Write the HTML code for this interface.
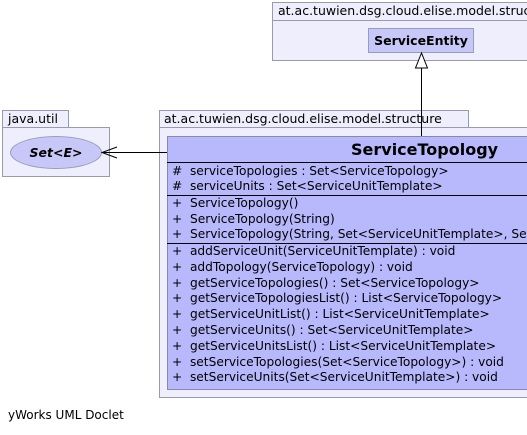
<!DOCTYPE html>
<html><head><meta charset="utf-8"><style>
html,body{margin:0;width:527px;height:435px;overflow:hidden}
body{background:#fff;position:relative;font-family:"DejaVu Sans","Liberation Sans",sans-serif;font-size:12.2px;color:#000}
#w{position:absolute;left:0;top:0;width:527px;height:435px;overflow:hidden}
.a{position:absolute;box-sizing:border-box}
.pk{background:#eeeefc;border:1px solid #9a9aae}
.t{white-space:nowrap;position:absolute;line-height:15px}
</style></head><body><div id="w">
<div class="a pk" style="left:272px;top:2px;width:262px;height:19px"></div>
<div class="t" style="left:278px;top:3px;font-size:12.5px">at.ac.tuwien.dsg.cloud.elise.model.structure</div>
<div class="a pk" style="left:272px;top:20px;width:262px;height:41px"></div>
<div class="a" style="left:368px;top:28px;width:106px;height:25px;background:#c8c8f8;border:1px solid #9a9ac0"></div>
<div class="t" style="left:368px;top:33px;width:106px;text-align:center;font-weight:bold;font-size:12.5px">ServiceEntity</div>

<div class="a pk" style="left:2px;top:110px;width:67px;height:18px"></div>
<div class="t" style="left:8px;top:111px;font-size:12.5px">java.util</div>
<div class="a pk" style="left:2px;top:127px;width:108px;height:50px"></div>
<div class="a" style="left:10px;top:136px;width:92px;height:33px;border-radius:50%;background:#c8c8f8;border:1px solid #9a9ac0"></div>
<div class="t" style="left:10px;top:145px;width:92px;text-align:center;font-weight:bold;font-style:italic;font-size:12.5px">Set&lt;E&gt;</div>

<div class="a pk" style="left:159px;top:110px;width:310px;height:18px"></div>
<div class="t" style="left:164px;top:111px;font-size:12.5px">at.ac.tuwien.dsg.cloud.elise.model.structure</div>
<div class="a pk" style="left:159px;top:127px;width:380px;height:271px"></div>
<div class="a" style="left:167px;top:136px;width:370px;height:254px;background:#b8b8fc;border:1px solid #8888aa"></div>
<div class="t" style="left:351px;top:141px;font-weight:bold;font-size:16px;line-height:18px">ServiceTopology</div>
<div class="a" style="left:167px;top:162px;width:370px;height:1px;background:#000"></div>
<div class="a" style="left:167px;top:195px;width:370px;height:1px;background:#000"></div>
<div class="a" style="left:167px;top:243px;width:370px;height:1px;background:#000"></div>
<div class="t" style="left:172px;top:164px">#&nbsp; serviceTopologies : Set&lt;ServiceTopology&gt;<br>#&nbsp; serviceUnits : Set&lt;ServiceUnitTemplate&gt;</div>
<div class="t" style="left:172px;top:196px;line-height:15.7px">+&nbsp; ServiceTopology()<br>+&nbsp; ServiceTopology(String)<br>+&nbsp; ServiceTopology(String, Set&lt;ServiceUnitTemplate&gt;, Set&lt;ServiceTopology&gt;)</div>
<div class="t" style="left:172px;top:244px;line-height:15.8px">+&nbsp; addServiceUnit(ServiceUnitTemplate) : void<br>+&nbsp; addTopology(ServiceTopology) : void<br>+&nbsp; getServiceTopologies() : Set&lt;ServiceTopology&gt;<br>+&nbsp; getServiceTopologiesList() : List&lt;ServiceTopology&gt;<br>+&nbsp; getServiceUnitList() : List&lt;ServiceUnitTemplate&gt;<br>+&nbsp; getServiceUnits() : Set&lt;ServiceUnitTemplate&gt;<br>+&nbsp; getServiceUnitsList() : List&lt;ServiceUnitTemplate&gt;<br>+&nbsp; setServiceTopologies(Set&lt;ServiceTopology&gt;) : void<br>+&nbsp; setServiceUnits(Set&lt;ServiceUnitTemplate&gt;) : void</div>

<svg class="a" style="left:0;top:0" width="527" height="435">
<line x1="421.5" y1="136" x2="421.5" y2="68" stroke="#000" stroke-width="1"/>
<polygon points="421.5,53 415.5,68 427.5,68" fill="#fff" stroke="#000"/>
<line x1="167" y1="152.5" x2="102" y2="152.5" stroke="#000"/>
<polyline points="117,147 102,152.5 117,158" fill="none" stroke="#000"/>
</svg>
<div class="t" style="left:8px;top:408px;font-size:12px">yWorks UML Doclet</div>
</div></body></html>
